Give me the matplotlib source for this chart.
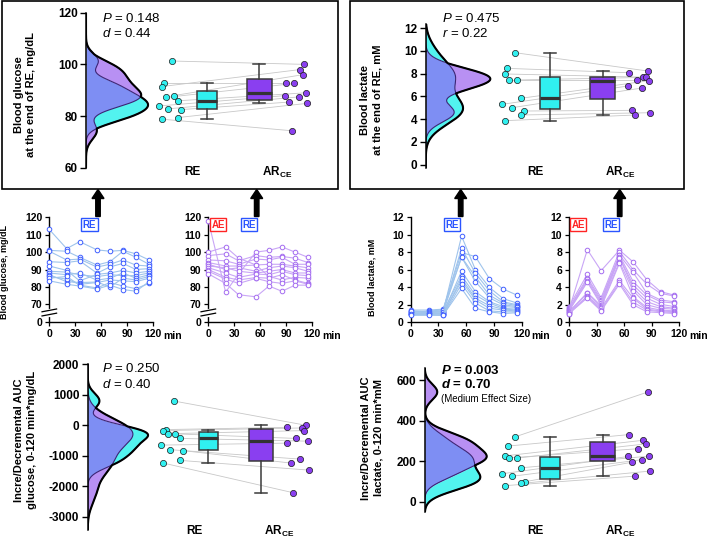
import numpy as np
import matplotlib
matplotlib.use('Agg')
import matplotlib.pyplot as plt
from matplotlib.patches import Rectangle, FancyArrow
from matplotlib.transforms import blended_transform_factory

plt.rcParams['font.family'] = 'Liberation Sans'
plt.rcParams['mathtext.fontset'] = 'custom'
plt.rcParams['mathtext.rm'] = 'Liberation Sans'
plt.rcParams['mathtext.it'] = 'Liberation Sans:italic'
plt.rcParams['mathtext.bf'] = 'Liberation Sans:bold'
plt.rcParams['mathtext.bfit'] = 'Liberation Sans:italic:bold'

W, H = 708, 538

# sampling times (min)
times = [0, 20, 35, 55, 70, 85, 100, 115]

# blood glucose (mg/dL), one row per subject
glu_re = [
    [113, 102, 106, 101.3, 100.5, 101, 99, 95.5],
    [101, 100.5, 97, 92.6, 94.5, 100.5, 97, 93],
    [100.5, 95.5, 96, 91.4, 93, 95.5, 92.5, 92],
    [94.5, 94, 95, 87.9, 91.5, 93.5, 90, 90.5],
    [92, 89.5, 83.5, 87.2, 88, 89.5, 88, 89],
    [89, 88.5, 87, 85.9, 87, 86.5, 86.5, 88],
    [88, 87, 88, 83.9, 85, 88, 85, 87],
    [87, 83, 82.5, 82.8, 80, 85, 84, 86],
    [86, 84.5, 81.5, 82.5, 84, 83.5, 83, 85],
    [85, 86, 81, 79.4, 82.5, 80.5, 79, 82],
    [83.5, 81.5, 80.5, 78.8, 81, 78.5, 77.5, 83],
]
glu_ar = [
    [118, 77, 87.5, 100, 101, 103, 100, 97],
    [100, 103, 96.5, 92.6, 86, 84, 85.5, 85],
    [98, 99, 95, 98, 97, 97.5, 96.5, 94],
    [95.5, 95, 93, 96, 95.5, 97, 93, 93],
    [94, 92, 92, 92.6, 93, 93, 92, 91],
    [93, 90, 91, 89, 91, 92, 91, 89],
    [92, 91, 89, 87.9, 89, 90, 88, 88],
    [91, 88, 85.5, 87.4, 87, 89, 87, 86.5],
    [90, 85.5, 84, 85.4, 85, 87, 84, 82],
    [89, 84.5, 82, 84.9, 83, 82, 83.5, 81.5],
    [87.5, 82, 75.5, 74.3, 80.5, 77.5, 81, 81],
]

# blood lactate (mM), one row per subject
lac_re = [
    [1.2, 1.1, 1.2, 9.85, 6.0, 4.0, 2.7, 2.2],
    [1.3, 1.2, 1.3, 8.47, 5.6, 3.6, 2.35, 2.0],
    [1.4, 1.4, 1.5, 7.98, 7.5, 5.0, 3.8, 3.1],
    [1.0, 1.0, 1.1, 7.45, 5.2, 3.1, 2.2, 1.9],
    [1.1, 1.3, 1.4, 7.45, 4.65, 2.8, 2.0, 1.8],
    [0.9, 0.9, 1.0, 5.84, 3.5, 2.35, 1.8, 1.7],
    [1.2, 1.2, 1.2, 5.31, 3.1, 2.2, 1.6, 1.5],
    [1.0, 1.0, 0.9, 5.01, 2.75, 1.9, 1.5, 1.4],
    [1.3, 1.1, 1.0, 4.72, 2.55, 1.6, 1.4, 1.3],
    [0.9, 0.9, 0.8, 4.37, 2.2, 1.3, 1.2, 1.2],
    [0.8, 0.8, 0.8, 3.87, 1.6, 1.2, 1.0, 1.1],
]
lac_ar = [
    [1.4, 8.3, 5.9, 8.24, 6.9, 4.85, 3.5, 3.1],
    [1.8, 5.5, 2.8, 8.09, 6.0, 4.35, 3.3, 3.0],
    [1.6, 5.1, 2.6, 7.7, 5.7, 3.3, 2.55, 2.35],
    [1.5, 4.9, 2.4, 7.68, 4.65, 3.1, 2.35, 2.2],
    [1.4, 4.7, 2.2, 7.45, 4.25, 2.75, 2.05, 1.8],
    [1.3, 4.6, 2.0, 7.39, 3.9, 2.35, 1.8, 1.6],
    [1.2, 3.4, 1.9, 6.92, 3.6, 2.0, 1.6, 1.5],
    [1.2, 3.3, 1.7, 6.74, 2.9, 1.7, 1.4, 1.3],
    [1.1, 3.0, 1.6, 4.78, 2.75, 1.5, 1.3, 1.2],
    [1.0, 2.9, 1.4, 4.57, 2.3, 1.4, 1.2, 1.1],
    [1.0, 2.8, 1.3, 4.37, 2.0, 1.2, 1.1, 1.0],
]

# incremental / decremental AUC, 0-120 min
auc_glu_re = [800, -140, -173, -270, -270, -430, -650, -800, -830, -1150, -1240]
auc_glu_ar = [0, -65, -87, -173, -430, -520, -585, -1110, -1240, -1470, -2215]
auc_lac_re = [320, 274, 226, 215, 216, 167, 138, 125, 98, 90, 79]
auc_lac_ar = [541, 331, 303, 285, 261, 225, 223, 207, 195, 151, 126]

# end of RE = 55 min sample
END = times.index(55)
end_glu_re = [r[END] for r in glu_re]
end_glu_ar = [r[END] for r in glu_ar]
end_lac_re = [r[END] for r in lac_re]
end_lac_ar = [r[END] for r in lac_ar]

CYAN = '#30f0f0'
PURP = '#8a3ff0'
V_CYAN = '#52f3ef'
V_PURP = '#b890f3'
V_BLUE = '#7e8ef3'

fig = plt.figure(figsize=(W / 100, H / 100), dpi=100)


def px_axes(l, t, r, b):
    return fig.add_axes([l / W, 1 - b / H, (r - l) / W, (b - t) / H])


def ftext(x, y, s, **kw):
    kw.setdefault('va', 'center')
    return fig.text(x / W, 1 - y / H, s, **kw)


def kde(v, grid):
    v = np.asarray(v, float)
    n = len(v)
    iqr = np.subtract(*np.percentile(v, [75, 25]))
    bw = 0.9 * min(v.std(ddof=1), iqr / 1.34) * n ** -0.2
    z = (grid[:, None] - v[None, :]) / bw
    return np.exp(-0.5 * z ** 2).sum(1) / (n * bw * np.sqrt(2 * np.pi))


jit_re = np.array([0.02, -0.07, -0.10, 0.04, -0.05, 0.09, -0.13, -0.02, 0.13, 0.09, -0.10])
jit_ar = np.array([0.10, -0.12, 0.05, 0.08, -0.02, 0.12, -0.13, 0.03, -0.08, 0.13, -0.05])


def raincloud(ax, re, ar, vwidth, label_y, yticks):
    re = np.asarray(re, float)
    ar = np.asarray(ar, float)
    x0 = ax.get_xlim()[0]
    lo, hi = ax.get_ylim()
    y = np.linspace(lo, hi, 800)
    d1 = kde(re, y)
    d2 = kde(ar, y)
    s = vwidth / max(d1.max(), d2.max())
    d1, d2 = d1 * s, d2 * s
    mn, mx = np.minimum(d1, d2), np.maximum(d1, d2)
    ax.fill_betweenx(y, x0, x0 + mn, color=V_BLUE, lw=0)
    ax.fill_betweenx(y, x0 + mn, x0 + d1, where=d1 >= d2, interpolate=True, color=V_CYAN, lw=0)
    ax.fill_betweenx(y, x0 + mn, x0 + d2, where=d2 >= d1, interpolate=True, color=V_PURP, lw=0)
    ax.plot(x0 + d1, y, color='#3c2475', lw=0.8)
    ax.plot(x0 + d2, y, color='#3c2475', lw=0.8)
    ax.plot(x0 + mx, y, color='black', lw=1.5)

    xr = 0.74 + jit_re
    xa = 2.22 + jit_ar
    for i in range(len(re)):
        ax.plot([xr[i], xa[i]], [re[i], ar[i]], color='#c8c8c8', lw=0.6, zorder=1)
    bp = ax.boxplot([re, ar], positions=[1.17, 1.79], widths=[0.23, 0.29],
                    patch_artist=True, showfliers=False, capwidths=0.14,
                    boxprops=dict(edgecolor='#3a3a3a', lw=1.1),
                    whiskerprops=dict(color='#3a3a3a', lw=1.1),
                    capprops=dict(color='#3a3a3a', lw=1.1),
                    medianprops=dict(color='#333333', lw=2.3), zorder=2)
    bp['boxes'][0].set_facecolor(CYAN)
    bp['boxes'][1].set_facecolor(PURP)
    ax.scatter(xr, re, s=20, color=CYAN, edgecolor='#1a1a1a', lw=0.5, zorder=3)
    ax.scatter(xa, ar, s=20, color=PURP, edgecolor='#1a1a1a', lw=0.5, zorder=3)

    for s_ in ['top', 'right', 'bottom']:
        ax.spines[s_].set_visible(False)
    ax.spines['left'].set_linewidth(1.1)
    ax.set_xticks([])
    ax.set_yticks(yticks)
    ax.set_yticklabels([str(v) for v in yticks], fontsize=8.5, fontweight='bold')
    ax.tick_params(axis='y', direction='out', length=4, width=1.0, pad=2)
    tr = blended_transform_factory(ax.transData, fig.transFigure)
    ax.text(1, 1 - label_y / H, 'RE', transform=tr, ha='center', va='center',
            fontsize=8.5, fontweight='bold')
    ax.text(2, 1 - label_y / H, r'AR$_{\mathbf{CE}}$', transform=tr, ha='center', va='center',
            fontsize=8.5, fontweight='bold')
    ax.patch.set_alpha(0)


def timeseries(ax, rows, line_c, mark_c, ylim, yticks, ylabels, broken=False):
    for r in rows:
        ax.plot(times, r, color=line_c, lw=0.8, marker='o', ms=3.3, mfc='white',
                mec=mark_c, mew=0.7, clip_on=False, zorder=3)
    ax.set_xlim(0, 120)
    ax.set_ylim(*ylim)
    ax.set_xticks([0, 30, 60, 90, 120])
    ax.set_xticklabels(['0', '30', '60', '90', '120'], fontsize=7.5, fontweight='bold')
    ax.set_yticks(yticks)
    ax.set_yticklabels(ylabels, fontsize=7.5, fontweight='bold')
    for s_ in ['top', 'right']:
        ax.spines[s_].set_visible(False)
    ax.spines['left'].set_linewidth(1.0)
    ax.spines['bottom'].set_linewidth(1.0)
    ax.tick_params(direction='out', length=3, width=0.9, pad=2)
    ax.patch.set_alpha(0)
    if broken:
        tr = ax.get_yaxis_transform()
        ax.plot([0, 0], [63.8, 66.4], color='white', lw=3, transform=tr, clip_on=False, zorder=4)
        for yb in (63.3, 65.7):
            ax.plot([-0.07, 0.07], [yb, yb + 1.6], color='black', lw=0.9, transform=tr,
                    clip_on=False, zorder=5)


# ---- top row: end-of-RE rainclouds ----
ax1 = px_axes(86, 12.7, 330, 167.7)
ax1.set_xlim(-0.25, 2.62)
ax1.set_ylim(60, 120)
raincloud(ax1, end_glu_re, end_glu_ar, 0.73, 172, [60, 80, 100, 120])

ax2 = px_axes(425.7, 23.7, 680, 168.1)
ax2.set_xlim(-0.29, 2.70)
ax2.set_ylim(-0.3, 12.4)
raincloud(ax2, end_lac_re, end_lac_ar, 0.76, 172, list(range(0, 13, 2)))

# ---- middle row: time courses ----
g_ticks = [60, 70, 80, 90, 100, 110, 120]
g_labels = ['0', '70', '80', '90', '100', '110', '120']
l_ticks = list(range(0, 13, 2))
l_labels = [str(v) for v in l_ticks]

ax3 = px_axes(49.3, 217.3, 153.3, 321.7)
timeseries(ax3, glu_re, '#9fc4ec', '#3f5eff', (60, 120), g_ticks, g_labels, broken=True)
ax4 = px_axes(208.3, 217.3, 312.3, 321.7)
timeseries(ax4, glu_ar, '#c9a6f6', '#a46cf0', (60, 120), g_ticks, g_labels, broken=True)
ax5 = px_axes(410.7, 217.3, 521.7, 322.3)
timeseries(ax5, lac_re, '#9fc4ec', '#3f5eff', (0, 12), l_ticks, l_labels)
ax6 = px_axes(569, 217.3, 679, 322.3)
timeseries(ax6, lac_ar, '#c9a6f6', '#a46cf0', (0, 12), l_ticks, l_labels)

for x in (173, 331.7, 540.7, 699):
    ftext(x, 336, 'min', ha='center', fontsize=7.5, fontweight='bold')

# ---- bottom row: AUC rainclouds ----
ax7 = px_axes(87.7, 364.4, 330, 530.4)
ax7.set_xlim(-0.25, 2.60)
ax7.set_ylim(-3450, 2000)
raincloud(ax7, auc_glu_re, auc_glu_ar, 0.71, 531, list(range(-3000, 2001, 1000)))

ax8 = px_axes(424.7, 367.9, 680, 511.8)
ax8.set_xlim(-0.306, 2.70)
ax8.set_ylim(-50, 660)
raincloud(ax8, auc_lac_re, auc_lac_ar, 0.73, 531, [0, 200, 400, 600])

# ---- y labels ----
ftext(25, 95, 'Blood glucose\nat the end of RE, mg/dL', ha='center', rotation=90,
      fontsize=8, fontweight='bold', linespacing=1.3)
ftext(371, 100, 'Blood lactate\nat the end of RE, mM', ha='center', rotation=90,
      fontsize=8, fontweight='bold', linespacing=1.3)
ftext(5, 272, 'Blood glucose, mg/dL', ha='center', rotation=90, fontsize=6.5, fontweight='bold')
ftext(372, 277, 'Blood lactate, mM', ha='center', rotation=90, fontsize=6.5, fontweight='bold')
ftext(25.5, 440, 'Incre/Decremental AUC\nglucose, 0-120 min*mg/dL', ha='center', rotation=90,
      fontsize=8, fontweight='bold', linespacing=1.3)
ftext(372, 438, 'Incre/Decremental AUC\nlactate, 0-120 min*mM', ha='center', rotation=90,
      fontsize=8, fontweight='bold', linespacing=1.3)

# ---- statistics ----
ftext(102, 18.3, '$P$ = 0.148', fontsize=9.5)
ftext(102, 33.3, '$d$ = 0.44', fontsize=9.5)
ftext(442, 18.3, '$P$ = 0.475', fontsize=9.5)
ftext(442, 33.3, '$r$ = 0.22', fontsize=9.5)
ftext(102, 368, '$P$ = 0.250', fontsize=9.5)
ftext(102, 385, '$d$ = 0.40', fontsize=9.5)
ftext(441, 370.7, r'$\mathbfit{P}$ = 0.003', fontsize=9.5, fontweight='bold')
ftext(441, 384.5, r'$\mathbfit{d}$ = 0.70', fontsize=9.5, fontweight='bold')
ftext(441, 399, '(Medium Effect Size)', fontsize=7)

# ---- frames, arrows and exercise labels ----
for l, r in ((2, 337.5), (350, 684)):
    fig.add_artist(Rectangle((l / 100, (H - 189) / 100), (r - l) / 100, 188 / 100,
                             transform=fig.dpi_scale_trans, fill=False, ec='black', lw=1.2))
for x in (98, 256.7, 460.7, 619.7):
    fig.add_artist(FancyArrow(x / 100, (H - 216.5) / 100, 0, 27 / 100, width=0.045,
                              head_width=0.12, head_length=0.09, length_includes_head=True,
                              color='black', transform=fig.dpi_scale_trans))


def tag(x, y, s, c):
    ftext(x, y, s, ha='center', fontsize=7, fontweight='bold', color=c,
          bbox=dict(boxstyle='square,pad=0.15', fc='white', ec=c, lw=1.0))


for x in (89.3, 249, 452, 611):
    tag(x, 224.5, 'RE', '#2b55ff')
for x in (218, 578):
    tag(x, 224.5, 'AE', '#ff2424')

fig.savefig('out.png', dpi=100)
